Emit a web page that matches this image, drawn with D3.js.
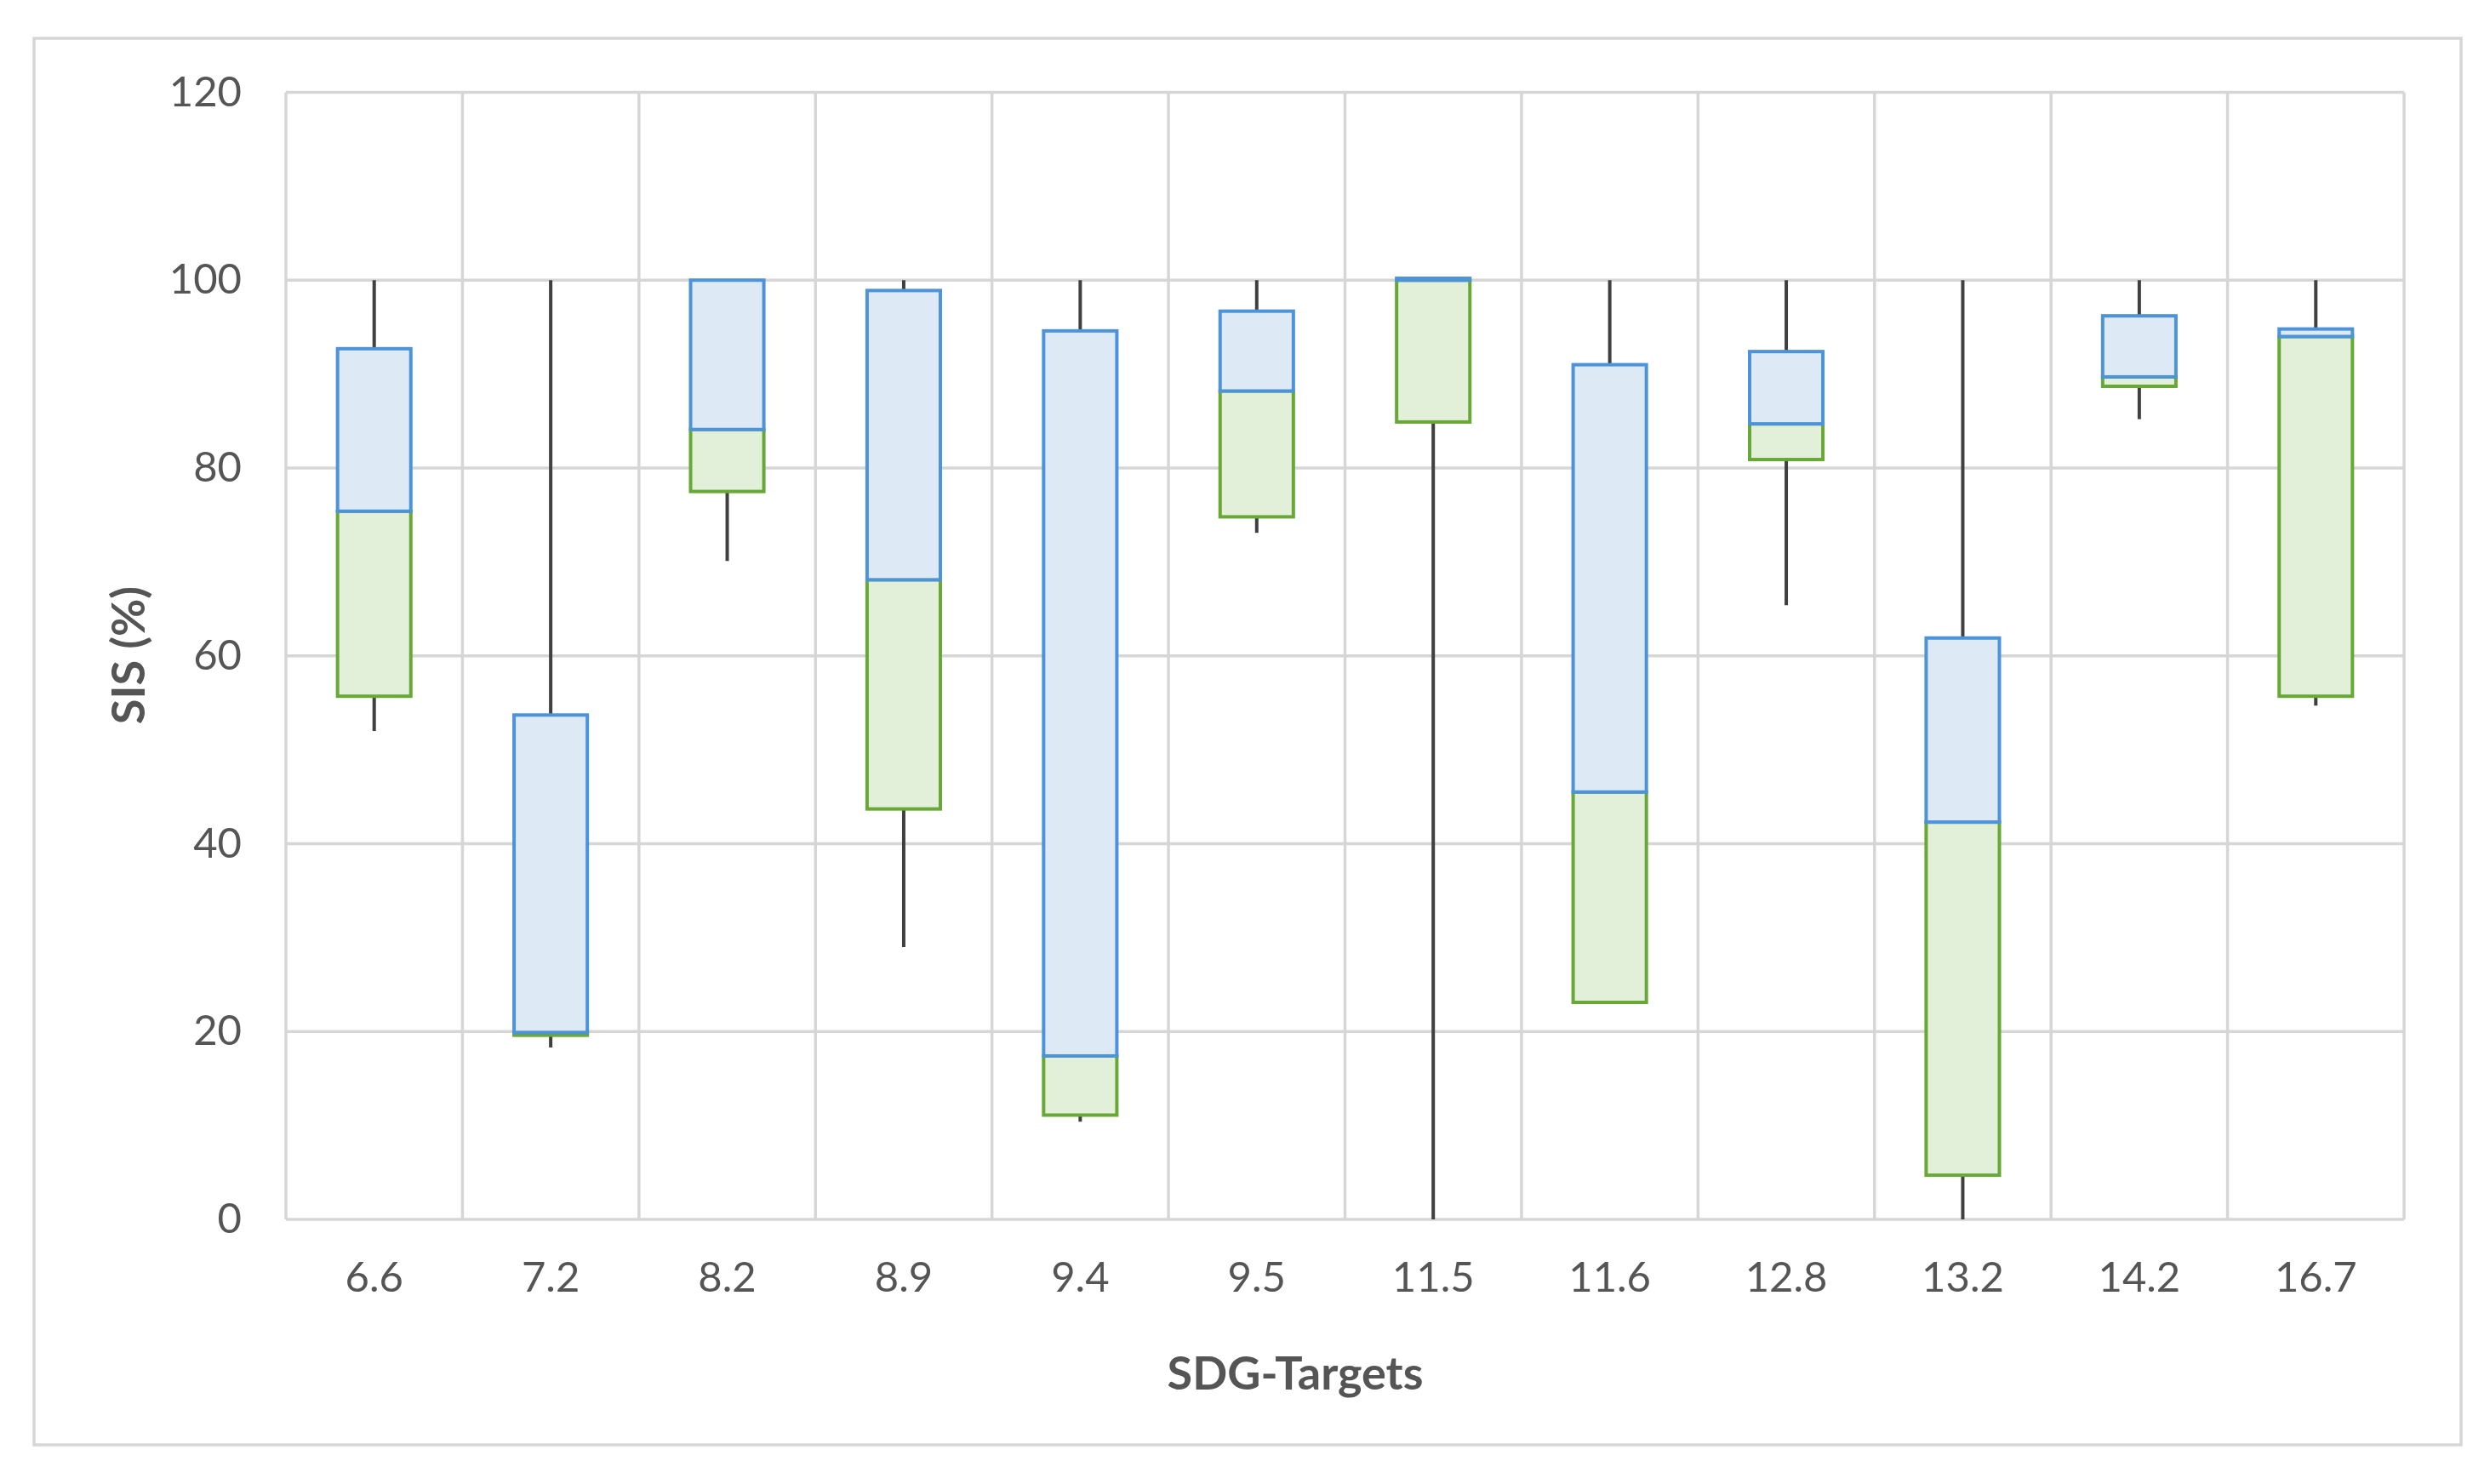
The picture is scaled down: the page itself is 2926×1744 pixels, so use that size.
<!DOCTYPE html>
<html>
<head>
<meta charset="utf-8">
<script src="https://cdn.jsdelivr.net/npm/d3@7"></script>
<style>
  html, body { margin: 0; padding: 0; background: #ffffff; }
  svg { display: block; }
</style>
</head>
<body>
<script>
// ---- Data ----
const categories = ["6.6", "7.2", "8.2", "8.9", "9.4", "9.5", "11.5", "11.6", "12.8", "13.2", "14.2", "16.7"];
const minVals    = [52.0, 18.3, 70.1, 29.0, 10.4, 73.1,   0.0, 23.1, 65.4,  0.0, 85.2, 54.7];
const q1Vals     = [55.7, 19.6, 77.5, 43.7, 11.1, 74.8,  84.9, 23.1, 80.9,  4.7, 88.7, 55.7];
const medianVals = [75.4, 19.9, 84.1, 68.1, 17.4, 88.2, 100.0, 45.5, 84.7, 42.3, 89.7, 94.0];
const q3Vals     = [92.7, 53.7,100.0, 98.9, 94.6, 96.7, 100.2, 91.0, 92.4, 61.9, 96.2, 94.8];
const maxVals    = [100,  100,  100,  100,  100,  100,  100.2, 100,  100,  100,  100,  100];
const yTicks     = [0, 20, 40, 60, 80, 100, 120];
const xTitle = "SDG-Targets";
const yTitle = "SIS (%)";

// ---- Layout ----
const W = 2926, H = 1744;
const plot = { left: 336, right: 2825, top: 108.5, bottom: 1433 };
const textColor = "#555555";
const gridColor = "#d6d6d6";
const fontFamily = "Lato, 'Open Sans', 'Liberation Sans', sans-serif";

const svg = d3.select("body").append("svg")
  .attr("width", W).attr("height", H);

// outer chart border
svg.append("rect")
  .attr("x", 40).attr("y", 45)
  .attr("width", 2892 - 40).attr("height", 1698 - 45)
  .attr("fill", "#ffffff")
  .attr("stroke", "#d6d6d6")
  .attr("stroke-width", 3.5);

const x = d3.scaleBand()
  .domain(categories)
  .range([plot.left, plot.right])
  .paddingInner(0.585)
  .paddingOuter(0.2925);

const y = d3.scaleLinear()
  .domain([0, 120])
  .range([plot.bottom, plot.top]);

const step = x.step();
const bandStart = plot.left;

// gridlines (horizontal)
svg.append("g").selectAll("line.h")
  .data(yTicks)
  .join("line")
  .attr("x1", plot.left).attr("x2", plot.right)
  .attr("y1", d => y(d)).attr("y2", d => y(d))
  .attr("stroke", gridColor).attr("stroke-width", 3.5);

// gridlines (vertical, at category boundaries)
const boundaries = d3.range(categories.length + 1);
svg.append("g").selectAll("line.v")
  .data(boundaries)
  .join("line")
  .attr("x1", i => bandStart + i * step).attr("x2", i => bandStart + i * step)
  .attr("y1", y(0)).attr("y2", y(120))
  .attr("stroke", gridColor).attr("stroke-width", 3.5);

// Y axis
const yAxis = d3.axisLeft(y).tickValues(yTicks).tickSize(0).tickPadding(52);
const gy = svg.append("g").attr("transform", `translate(${plot.left},0)`).call(yAxis);
gy.select(".domain").remove();
gy.selectAll("text")
  .attr("fill", textColor)
  .style("font-family", fontFamily)
  .style("font-size", "49px");

// X axis
const xAxis = d3.axisBottom(x).tickSize(0).tickPadding(50);
const gx = svg.append("g").attr("transform", `translate(0,${plot.bottom})`).call(xAxis);
gx.select(".domain").remove();
gx.selectAll("text")
  .attr("fill", textColor)
  .style("font-family", fontFamily)
  .style("font-size", "49px");

// data rows
const rows = categories.map((c, i) => ({
  cat: c, min: minVals[i], q1: q1Vals[i], med: medianVals[i], q3: q3Vals[i], max: maxVals[i]
}));

const cx = d => x(d.cat) + x.bandwidth() / 2;

// whiskers
const wg = svg.append("g");
wg.selectAll("line.up")
  .data(rows)
  .join("line")
  .attr("x1", cx).attr("x2", cx)
  .attr("y1", d => y(d.q3)).attr("y2", d => y(d.max))
  .attr("stroke", "#404040").attr("stroke-width", 4);
wg.selectAll("line.down")
  .data(rows)
  .join("line")
  .attr("x1", cx).attr("x2", cx)
  .attr("y1", d => y(d.q1)).attr("y2", d => y(d.min))
  .attr("stroke", "#404040").attr("stroke-width", 4);

// lower box (Q1 -> median), green
svg.append("g").selectAll("rect")
  .data(rows)
  .join("rect")
  .attr("x", d => x(d.cat))
  .attr("width", x.bandwidth())
  .attr("y", d => y(d.med))
  .attr("height", d => Math.max(0, y(d.q1) - y(d.med)))
  .attr("fill", "#e2efd9")
  .attr("stroke", "#67a836")
  .attr("stroke-width", 4);

// upper box (median -> Q3), blue
svg.append("g").selectAll("rect")
  .data(rows)
  .join("rect")
  .attr("x", d => x(d.cat))
  .attr("width", x.bandwidth())
  .attr("y", d => y(d.q3))
  .attr("height", d => Math.max(0, y(d.med) - y(d.q3)))
  .attr("fill", "#ddeaf6")
  .attr("stroke", "#4c93da")
  .attr("stroke-width", 4);

// axis titles
svg.append("text")
  .attr("x", 1522).attr("y", 1633)
  .attr("text-anchor", "middle")
  .attr("fill", textColor)
  .style("font-family", fontFamily)
  .style("font-weight", "bold")
  .style("font-size", "54px")
  .text(xTitle);

svg.append("text")
  .attr("transform", "translate(170,770) rotate(-90)")
  .attr("text-anchor", "middle")
  .attr("fill", textColor)
  .style("font-family", fontFamily)
  .style("font-weight", "bold")
  .style("font-size", "54px")
  .text(yTitle);
</script>
</body>
</html>
